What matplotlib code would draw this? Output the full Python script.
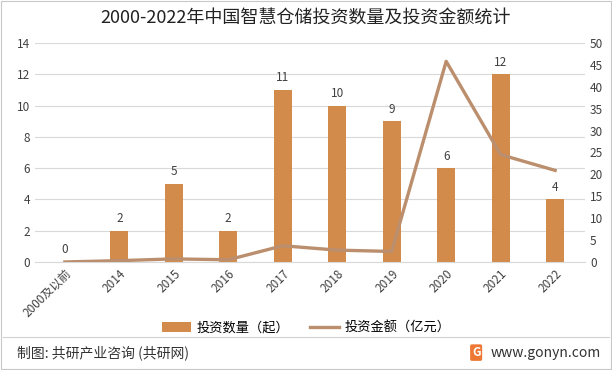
import matplotlib.pyplot as plt
import numpy as np

plt.rcParams['font.family'] = ['Noto Sans CJK SC', 'DejaVu Sans']
plt.rcParams['axes.unicode_minus'] = False

years = ['2000及以前', '2014', '2015', '2016', '2017', '2018', '2019', '2020', '2021', '2022']
counts = [0, 2, 5, 2, 11, 10, 9, 6, 12, 4]
amounts = [0, 0.3, 0.7, 0.5, 3.7, 2.7, 2.4, 45.8, 24.5, 20.9]

bar_color = '#D38B4C'
line_color = '#BB8F6E'

fig = plt.figure(figsize=(6.12, 3.7), dpi=100)
ax = fig.add_axes([0.057, 0.292, 0.899, 0.592])
x = np.arange(len(years))

bars = ax.bar(x, counts, width=0.33, color=bar_color, label='投资数量（起）', zorder=2)
for xi, c in zip(x, counts):
    ax.text(xi, c + 0.35, str(c), ha='center', va='bottom', fontsize=8.5, color='#404040')

ax.set_ylim(0, 14)
ax.set_yticks(range(0, 15, 2))
ax.set_xlim(-0.55, len(years) - 0.45)
ax.grid(axis='y', color='#D9D9D9', linewidth=0.8, zorder=0)
ax.set_axisbelow(True)
ax.set_xticks(x)
ax.set_xticklabels(years, rotation=45, ha='right', rotation_mode='anchor', fontsize=8.5)
ax.tick_params(axis='both', length=0, labelsize=8.5, colors='#404040')
for s in ['top', 'left', 'right']:
    ax.spines[s].set_visible(False)
ax.spines['bottom'].set_color('#D9D9D9')

ax2 = ax.twinx()
line, = ax2.plot(x, amounts, color=line_color, linewidth=2.4, label='投资金额（亿元）', zorder=3)
ax2.set_ylim(0, 50)
ax2.set_yticks(range(0, 51, 5))
ax2.tick_params(axis='y', length=0, labelsize=8.5, colors='#404040')
for s in ['top', 'left', 'right', 'bottom']:
    ax2.spines[s].set_visible(False)

fig.legend([bars, line], ['投资数量（起）', '投资金额（亿元）'], loc='center',
           bbox_to_anchor=(0.5, 0.113), ncol=2, frameon=False, fontsize=9.5,
           handlelength=2.2, handletextpad=0.4, columnspacing=1.6)

fig.text(0.5, 0.953, '2000-2022年中国智慧仓储投资数量及投资金额统计', ha='center', va='center',
         fontsize=13, color='#222222')

fig.add_artist(plt.Line2D([0.005, 0.995], [0.088, 0.088], color='#D0D0D0', linewidth=0.8))
fig.add_artist(plt.Rectangle((0.002, 0.003), 0.996, 0.994, fill=False, edgecolor='#C8C8C8', linewidth=0.8))
fig.text(0.028, 0.047, '制图: 共研产业咨询 (共研网)', ha='left', va='center', fontsize=10, color='#333333')
fig.text(0.982, 0.047, 'www.gonyn.com', ha='right', va='center', fontsize=10, color='#333333')
fig.text(0.778, 0.047, 'G', ha='center', va='center', fontsize=8.5, color='white', fontweight='bold',
         bbox=dict(boxstyle='round,pad=0.15', facecolor='#EE7733', edgecolor='none'))

fig.savefig('out.png', dpi=100)
